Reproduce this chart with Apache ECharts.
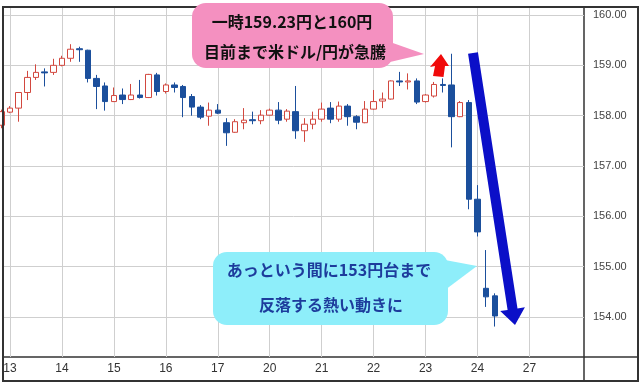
<!DOCTYPE html>
<html><head><meta charset="utf-8">
<script src="https://cdn.jsdelivr.net/npm/echarts@6/dist/echarts.min.js"></script>
<style>html,body{margin:0;padding:0;background:#fff}#c{width:640px;height:384px}</style>
</head><body><div id="c"></div>
<script>
// 4-hour candles, index = position in arrays
const openVals  = [157.81,158.07,158.15,158.46,158.76,158.87,158.86,159.00,159.14,159.33,159.30,158.74,158.59,158.28,158.41,158.32,158.41,158.36,158.81,158.48,158.61,158.58,158.38,158.17,157.99,158.11,157.86,157.67,157.86,157.92,157.90,158.01,158.11,157.93,158.08,157.70,157.83,157.93,158.15,157.93,158.19,157.98,157.86,158.13,158.29,158.33,158.69,158.67,158.69,158.28,158.39,158.62,158.61,157.98,158.26,156.34,154.57,154.42];
const closeVals = [158.08,158.15,158.46,158.76,158.86,158.85,159.00,159.14,159.32,159.31,158.74,158.58,158.28,158.40,158.32,158.41,158.36,158.82,158.48,158.61,158.56,158.36,158.17,157.97,158.11,158.05,157.66,157.88,157.91,157.90,158.01,158.11,157.91,158.09,157.70,157.83,157.93,158.13,157.93,158.19,157.98,157.87,158.13,158.28,158.33,158.69,158.67,158.69,158.27,158.41,158.62,158.60,157.98,158.26,156.34,155.69,154.40,154.02];
const lowVals   = [157.75,158.05,157.88,158.31,158.71,158.58,158.81,158.98,159.07,159.07,158.66,158.13,158.10,158.27,158.23,158.31,158.34,158.35,158.40,158.44,158.46,157.97,158.00,157.93,157.80,158.03,157.40,157.66,157.73,157.83,157.83,158.00,157.83,157.88,157.54,157.48,157.73,157.88,157.85,157.88,157.80,157.73,157.85,158.12,158.15,158.32,158.59,158.52,158.23,158.26,158.36,158.46,157.37,157.97,156.14,155.60,154.20,153.81];
const highVals  = [158.12,158.19,158.47,158.89,159.02,158.94,159.13,159.19,159.42,159.37,159.31,158.81,158.66,158.56,158.54,158.63,158.71,158.83,158.85,158.64,158.66,158.61,158.43,158.21,158.26,158.23,157.95,157.93,158.15,158.08,158.11,158.14,158.27,158.13,158.59,157.95,158.08,158.26,158.27,158.28,158.23,158.01,158.29,158.51,158.46,158.70,158.87,158.84,158.74,158.43,158.67,158.74,159.23,158.29,158.31,156.62,155.33,154.47];
const dayLabels   = ['13','14','15','16','17','20','21','22','23','24','27'];
const dayStartIdx = [1,7,13,19,25,31,37,43,49,55,61];
const yTicks = [154,155,156,157,158,159,160];

const candleData = openVals.map((o, i) => [i, o, closeVals[i], lowVals[i], highVals[i]]);

const chart = echarts.init(document.getElementById('c'), null, {renderer: 'canvas'});
const CJK = '"Noto Sans CJK JP", "Noto Sans", sans-serif';

// blue arrow geometry helper
function arrowPts(x0, y0, x1, y1, hw, headHw, headLen) {
  const dx = x1 - x0, dy = y1 - y0, L = Math.hypot(dx, dy);
  const ux = dx / L, uy = dy / L, nx = uy, ny = -ux;
  const px = x1 - ux * headLen, py = y1 - uy * headLen;
  return [
    [x0 - nx * hw, y0 - ny * hw], [x0 + nx * hw, y0 + ny * hw],
    [px + nx * hw, py + ny * hw], [px + nx * headHw, py + ny * headHw],
    [x1, y1],
    [px - nx * headHw, py - ny * headHw], [px - nx * hw, py - ny * hw]
  ];
}

chart.setOption({
  animation: false,
  backgroundColor: '#fff',
  grid: {left: 3, right: 56, top: 7, bottom: 27, show: true, borderColor: '#333', borderWidth: 1.5, backgroundColor: 'transparent'},
  xAxis: {
    type: 'value', min: 0.192, max: 67.30,
    axisLine: {show: false},
    axisTick: {show: false, customValues: dayStartIdx},
    axisLabel: {customValues: dayStartIdx, color: '#333', fontSize: 12, fontFamily: 'Liberation Sans, Arial, sans-serif', margin: 6,
      formatter: v => dayLabels[dayStartIdx.indexOf(Math.round(v))] || ''},
    splitLine: {show: true, lineStyle: {color: '#cfcfcf', width: 1}}
  },
  yAxis: {
    type: 'value', position: 'right', min: 153.205, max: 160.159, scale: true,
    axisLine: {show: false},
    axisTick: {show: false, customValues: yTicks},
    axisLabel: {customValues: yTicks, color: '#444', fontSize: 11, fontFamily: 'Liberation Sans, Arial, sans-serif', margin: 9,
      formatter: v => v.toFixed(2)},
    splitLine: {show: true, lineStyle: {color: '#cfcfcf', width: 1}}
  },
  series: [{
    type: 'candlestick',
    data: candleData,
    barWidth: 6,
    clip: true,
    itemStyle: {
      color: '#ffffff', color0: '#1b4f9c',
      borderColor: '#d2483f', borderColor0: '#1b4f9c', borderWidth: 1
    }
  }],
  graphic: [
    {type: 'rect', z: 50, silent: true, shape: {x: 3, y: 7, width: 635, height: 374}, style: {fill: 'none', stroke: '#333', lineWidth: 2}},
    {type: 'line', z: 50, silent: true, shape: {x1: 584, y1: 357, x2: 638, y2: 357}, style: {stroke: '#333', lineWidth: 1.5}},
    {type: 'line', z: 50, silent: true, shape: {x1: 584, y1: 357, x2: 584, y2: 381}, style: {stroke: '#333', lineWidth: 1.5}},
    // pink callout
    {type: 'polygon', z: 100, silent: true, shape: {points: [[390, 42], [390, 62], [424, 54]]}, style: {fill: '#f490c0'}},
    {type: 'rect', z: 100, silent: true, shape: {x: 192, y: 3, width: 201, height: 65, r: 14}, style: {fill: '#f490c0'}},
    {type: 'text', z: 101, silent: true, style: {text: '一時159.23円と160円', x: 292, y: 22, font: 'bold 16px ' + CJK, fill: '#111', textAlign: 'center', textVerticalAlign: 'middle', align: 'center', verticalAlign: 'middle'}},
    {type: 'text', z: 101, silent: true, style: {text: '目前まで米ドル/円が急騰', x: 295, y: 52, font: 'bold 16px ' + CJK, fill: '#111', textAlign: 'center', textVerticalAlign: 'middle', align: 'center', verticalAlign: 'middle'}},
    // cyan callout
    {type: 'polygon', z: 100, silent: true, shape: {points: [[445, 260], [445, 290], [477, 266]]}, style: {fill: '#8eeefa'}},
    {type: 'rect', z: 100, silent: true, shape: {x: 213, y: 252, width: 235, height: 73, r: 14}, style: {fill: '#8eeefa'}},
    {type: 'text', z: 101, silent: true, style: {text: 'あっという間に153円台まで', x: 329, y: 270, font: 'bold 16px ' + CJK, fill: '#1d3c9c', textAlign: 'center', textVerticalAlign: 'middle', align: 'center', verticalAlign: 'middle'}},
    {type: 'text', z: 101, silent: true, style: {text: '反落する熱い動きに', x: 331, y: 305, font: 'bold 16px ' + CJK, fill: '#1d3c9c', textAlign: 'center', textVerticalAlign: 'middle', align: 'center', verticalAlign: 'middle'}},
    // red up arrow
    {type: 'polygon', z: 100, silent: true, shape: {points: [[441, 54], [449, 66], [445, 66], [443.5, 77], [433, 76], [435, 66], [430, 67]]}, style: {fill: '#f00a0a'}},
    // blue down arrow
    {type: 'polygon', z: 100, silent: true, shape: {points: arrowPts(473, 53, 515, 325, 5, 12.5, 16)}, style: {fill: '#0b0fc8'}}
  ]
});
</script>
</body></html>
